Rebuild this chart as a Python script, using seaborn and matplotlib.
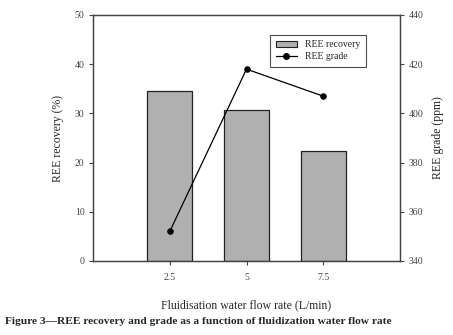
import matplotlib
matplotlib.use("Agg")
import matplotlib.pyplot as plt
import pandas as pd
import seaborn as sns
from matplotlib.patches import Patch
from matplotlib.lines import Line2D

# data
flow_rates = ["2.5", "5", "7.5"]
ree_recovery = [34.5, 30.7, 22.4]
ree_grade = [352, 418, 407]

df = pd.DataFrame({"flow": flow_rates, "recovery": ree_recovery, "grade": ree_grade})

sns.set_style("ticks")
plt.rcParams["font.family"] = ["Liberation Serif", "DejaVu Serif"]
plt.rcParams["axes.edgecolor"] = "#444444"
plt.rcParams["xtick.color"] = "#444444"
plt.rcParams["ytick.color"] = "#444444"

fig = plt.figure(figsize=(4.53, 3.35), dpi=100)
ax = fig.add_axes([93 / 453, 1 - 261 / 335, 307 / 453, 246 / 335])

sns.barplot(data=df, x="flow", y="recovery", order=flow_rates, color="#b0b0b0",
            edgecolor="#222222", linewidth=0.9, width=0.58, saturation=1, ax=ax)
ax.set_ylim(0, 50)
ax.set_yticks([0, 10, 20, 30, 40, 50])
ax.set_xlabel("Fluidisation water flow rate (L/min)", fontsize=8.5, labelpad=12)
ax.set_ylabel("REE recovery (%)", fontsize=8.5, labelpad=8)
ax.tick_params(labelsize=7, length=3, width=0.8, pad=3)
ax.tick_params(axis="x", pad=6)

ax2 = ax.twinx()
sns.pointplot(data=df, x="flow", y="grade", order=flow_rates, color="black",
              markers="o", linewidth=0.9, markersize=4, ax=ax2)
ax2.set_ylim(340, 440)
ax2.set_yticks([340, 360, 380, 400, 420, 440])
ax2.set_ylabel("REE grade (ppm)", fontsize=8.5, labelpad=6)
ax2.tick_params(labelsize=7, length=3, width=0.8, pad=3)
ax.set_xlim(-1, 3)
ax2.set_xlim(-1, 3)

for a in (ax, ax2):
    for s in a.spines.values():
        s.set_linewidth(0.9)
        s.set_visible(True)

handles = [Patch(facecolor="#b0b0b0", edgecolor="#222222", linewidth=0.8),
           Line2D([0], [0], color="black", marker="o", markersize=4, linewidth=0.9)]
leg = ax2.legend(handles, ["REE recovery", "REE grade"], loc="upper right",
                 bbox_to_anchor=(0.905, 0.94), fontsize=7, frameon=True,
                 fancybox=False, edgecolor="#222222", handlelength=2.2,
                 borderpad=0.6, labelspacing=0.3)
leg.get_frame().set_linewidth(0.8)

fig.text(0.012, 1 - 322 / 335, "Figure 3\u2014REE recovery and grade as a function of fluidization water flow rate",
         fontsize=8.2, fontweight="bold", va="center", ha="left")

fig.savefig("out.png", dpi=100)
